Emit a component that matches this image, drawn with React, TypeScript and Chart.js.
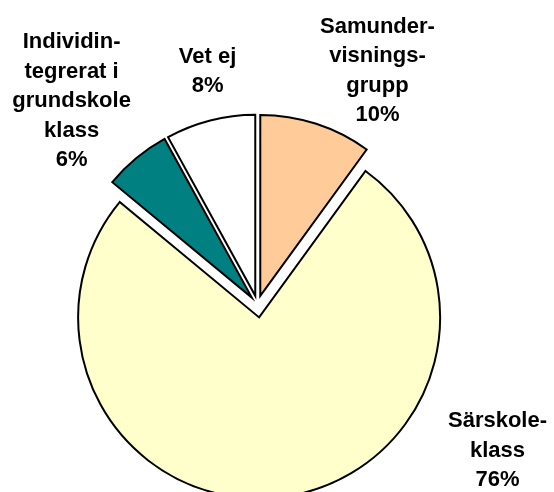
import React, { useEffect, useRef } from 'react';
import { Chart, registerables, ArcElement } from 'chart.js';

Chart.register(...registerables);

// ---- data ----
const categories: string[][] = [
  ['Samunder-', 'visnings-', 'grupp'],
  ['Särskole-', 'klass'],
  ['Individin-', 'tegrerat i', 'grundskole', 'klass'],
  ['Vet ej'],
];
const values = [10, 76, 6, 8];

// ---- styles ----
const colors = ['#FFCC99', '#FFFFCC', '#008080', '#FFFFFF'];
const explode = [9, 13, 9, 9]; // px each slice is pulled out along its bisector
const labelAngles = [27, 121, -42.2, -12]; // degrees clockwise from 12 o'clock
const labelDist = [1.46, 1.547, 1.529, 1.326]; // multiples of the pie radius
const FONT = 'bold 22px "Liberation Sans", Arial, sans-serif';
const LINE_H = 29.5;
const CAP_H = 15.75;

const explodePlugin = {
  id: 'explodeSlices',
  afterDatasetUpdate(chart: any, args: any) {
    const meta = chart.getDatasetMeta(args.index);
    meta.data.forEach((arc: any, i: number) => {
      const d = explode[i] || 0;
      arc.draw = function (ctx: CanvasRenderingContext2D, area: any) {
        const mid = (this.startAngle + this.endAngle) / 2;
        ctx.save();
        ctx.translate(Math.cos(mid) * d, Math.sin(mid) * d);
        ArcElement.prototype.draw.call(this, ctx, area);
        ctx.restore();
      };
    });
  },
};

const labelPlugin = {
  id: 'sliceLabels',
  afterDatasetsDraw(chart: any) {
    const ctx: CanvasRenderingContext2D = chart.ctx;
    const meta = chart.getDatasetMeta(0);
    ctx.save();
    ctx.font = FONT;
    ctx.fillStyle = '#000';
    ctx.textAlign = 'center';
    ctx.textBaseline = 'alphabetic';
    meta.data.forEach((arc: any, i: number) => {
      const { x, y, outerRadius } = arc;
      const a = (labelAngles[i] * Math.PI) / 180;
      const cx = x + Math.sin(a) * outerRadius * labelDist[i];
      const cy = y - Math.cos(a) * outerRadius * labelDist[i];
      const lines = [...categories[i], values[i] + '%'];
      const n = lines.length;
      lines.forEach((t, k) => {
        const by = cy + (k - (n - 1) / 2) * LINE_H + CAP_H / 2;
        ctx.fillText(t, cx, by);
      });
    });
    ctx.restore();
  },
};

export default function App() {
  const ref = useRef<HTMLCanvasElement | null>(null);
  useEffect(() => {
    if (!ref.current) return;
    const chart = new Chart(ref.current, {
      type: 'pie',
      data: {
        labels: categories.map((c) => c.join('')),
        datasets: [
          {
            data: values,
            backgroundColor: colors,
            borderColor: '#000000',
            borderWidth: 2,
            borderJoinStyle: 'miter',
            radius: 181,
            clip: false,
          } as any,
        ],
      },
      options: {
        animation: false,
        responsive: false,
        events: [],
        layout: { padding: { left: 0, right: 39, top: 117, bottom: 0 } },
        plugins: {
          legend: { display: false },
          tooltip: { enabled: false },
        },
      },
      plugins: [explodePlugin, labelPlugin],
    });
    return () => chart.destroy();
  }, []);
  return (
    <div
      style={{
        position: 'fixed',
        left: 0,
        top: 0,
        width: 554,
        height: 492,
        overflow: 'hidden',
        background: '#ffffff',
      }}
    >
      <canvas ref={ref} width={554} height={492} style={{ display: 'block' }} />
    </div>
  );
}
